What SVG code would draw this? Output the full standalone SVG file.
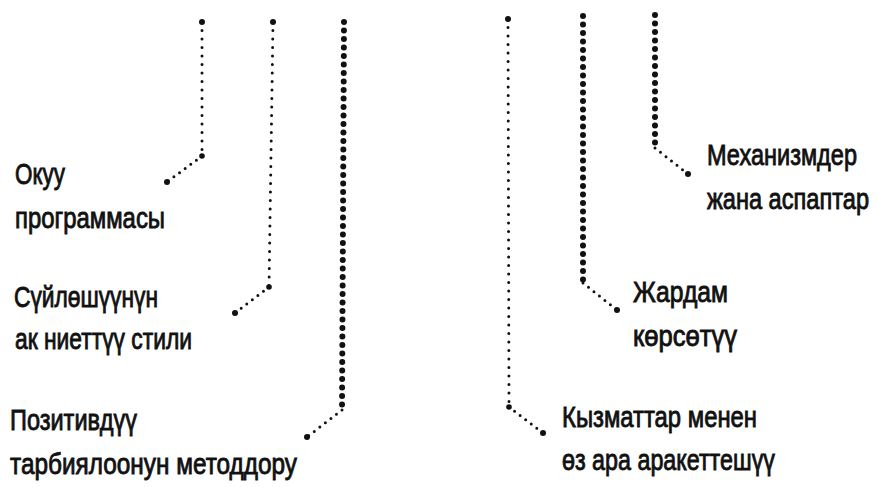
<svg xmlns="http://www.w3.org/2000/svg" width="878" height="487" viewBox="0 0 878 487">
<style>
.lbl{font-family:"Liberation Sans","Arial",sans-serif;font-size:30px;fill:#111;stroke:#111;stroke-width:0.9;}
.thin{fill:none;stroke:#111;stroke-width:3;stroke-linecap:round;stroke-dasharray:0 8.5;}
.dense{fill:none;stroke:#111;stroke-width:6;stroke-linecap:round;stroke-dasharray:0 8.5;}
.diag{fill:none;stroke:#111;stroke-width:3;stroke-linecap:round;stroke-dasharray:0 7;}
.end{fill:#111;}
</style>
<rect width="878" height="487" fill="#ffffff"/>
<g id="connectors">
  <path class="thin" d="M202,22 L202,156"/>
  <path class="diag" d="M202,156 L167,182"/>
  <circle class="end" cx="202" cy="22" r="3"/>
  <circle class="end" cx="202" cy="156" r="2.8"/>
  <circle class="end" cx="167" cy="182" r="3"/>

  <path class="thin" d="M273,22 L269,287"/>
  <path class="diag" d="M269,287 L235,313"/>
  <circle class="end" cx="273" cy="22" r="3"/>
  <circle class="end" cx="269" cy="287" r="2.8"/>
  <circle class="end" cx="235" cy="313" r="3"/>

  <path class="dense" d="M344,22 L342,410"/>
  <path class="diag" d="M342,410 L307,437"/>
  <circle class="end" cx="307" cy="437" r="3"/>

  <path class="thin" d="M508,19 L509,407"/>
  <path class="diag" d="M509,407 L543,433"/>
  <circle class="end" cx="508" cy="19" r="3"/>
  <circle class="end" cx="509" cy="407" r="2.8"/>
  <circle class="end" cx="543" cy="433" r="3"/>

  <path class="dense" d="M583,16 L583,283"/>
  <path class="diag" d="M583,283 L617,310"/>
  <circle class="end" cx="617" cy="310" r="3"/>

  <path class="dense" d="M655,15 L655,148"/>
  <path class="diag" d="M655,148 L688,174"/>
  <circle class="end" cx="688" cy="174" r="3"/>
</g>
<g id="node-okuu">
  <text class="lbl" transform="translate(15,184) scale(0.77,1)" textLength="64.9" lengthAdjust="spacingAndGlyphs">Окуу</text>
  <text class="lbl" transform="translate(15,228) scale(0.77,1)" textLength="194.8" lengthAdjust="spacingAndGlyphs">программасы</text>
</g>
<g id="node-suyloshuu">
  <text class="lbl" transform="translate(14,307) scale(0.77,1)" textLength="187" lengthAdjust="spacingAndGlyphs">Сүйлөшүүнүн</text>
  <text class="lbl" transform="translate(15,349) scale(0.77,1)" textLength="229.9" lengthAdjust="spacingAndGlyphs">ак ниеттүү стили</text>
</g>
<g id="node-pozitiv">
  <text class="lbl" transform="translate(10,430) scale(0.77,1)" textLength="164.9" lengthAdjust="spacingAndGlyphs">Позитивдүү</text>
  <text class="lbl" transform="translate(10,474) scale(0.77,1)" textLength="372.7" lengthAdjust="spacingAndGlyphs">тарбиялоонун методдору</text>
</g>
<g id="node-mehanizm">
  <text class="lbl" transform="translate(707,165) scale(0.77,1)" textLength="194.8" lengthAdjust="spacingAndGlyphs">Механизмдер</text>
  <text class="lbl" transform="translate(707,209) scale(0.77,1)" textLength="210.4" lengthAdjust="spacingAndGlyphs">жана аспаптар</text>
</g>
<g id="node-jardam">
  <text class="lbl" transform="translate(633,302) scale(0.77,1)" textLength="123.4" lengthAdjust="spacingAndGlyphs">Жардам</text>
  <text class="lbl" transform="translate(633,346) scale(0.77,1)" textLength="135.1" lengthAdjust="spacingAndGlyphs">көрсөтүү</text>
</g>
<g id="node-kyzmat">
  <text class="lbl" transform="translate(562,427) scale(0.77,1)" textLength="253.2" lengthAdjust="spacingAndGlyphs">Кызматтар менен</text>
  <text class="lbl" transform="translate(562,470) scale(0.77,1)" textLength="276.6" lengthAdjust="spacingAndGlyphs">өз ара аракеттешүү</text>
</g>
</svg>
